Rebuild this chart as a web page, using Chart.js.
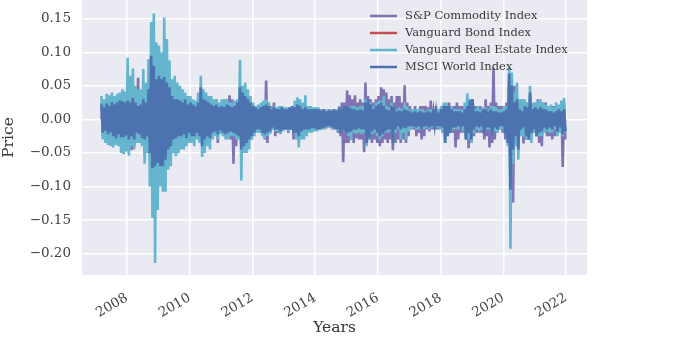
<!DOCTYPE html>
<html>
<head>
<meta charset="utf-8">
<script src="https://cdn.jsdelivr.net/npm/chart.js@4.4.0/dist/chart.umd.min.js"></script>
<style>
  html, body { margin: 0; padding: 0; background: #fff; }
</style>
</head>
<body>
<canvas id="returnsChart" width="695" height="345"></canvas>
<script>
// Monthly high / low of the daily returns, March 2007 .. December 2021
const FIRST_MONTH = 2007 + 2 / 12;

const seriesNames = ['S&P Commodity Index', 'Vanguard Bond Index', 'Vanguard Real Estate Index', 'MSCI World Index'];
const seriesColors = ['#8172B3', '#C44E52', '#64B5CD', '#4C72B0'];

const yearTicks = [2008, 2010, 2012, 2014, 2016, 2018, 2020, 2022];
const priceTicks = [0.15, 0.10, 0.05, 0.00, -0.05, -0.10, -0.15, -0.20];

const commodityHigh = [
  0.025, 0.025, 0.028, 0.025, 0.030, 0.028, 0.030, 0.035, 0.030, 0.030,
  0.040, 0.035, 0.040, 0.035, 0.062, 0.040, 0.045, 0.040, 0.055, 0.070, 0.065, 0.060,
  0.055, 0.045, 0.050, 0.040, 0.040, 0.035, 0.035, 0.035, 0.030, 0.030, 0.025, 0.025,
  0.025, 0.025, 0.020, 0.020, 0.035, 0.025, 0.025, 0.020, 0.020, 0.025, 0.030, 0.020,
  0.025, 0.030, 0.030, 0.036, 0.030, 0.025, 0.020, 0.035, 0.030, 0.035, 0.025, 0.025,
  0.020, 0.020, 0.015, 0.015, 0.015, 0.058, 0.025, 0.020, 0.025, 0.015, 0.015, 0.020,
  0.015, 0.015, 0.015, 0.020, 0.015, 0.015, 0.020, 0.020, 0.020, 0.015, 0.015, 0.015,
  0.015, 0.015, 0.015, 0.012, 0.012, 0.015, 0.012, 0.015, 0.012, 0.018, 0.025, 0.025,
  0.043, 0.036, 0.030, 0.036, 0.025, 0.030, 0.025, 0.055, 0.035, 0.030, 0.025, 0.030,
  0.035, 0.048, 0.045, 0.040, 0.030, 0.035, 0.025, 0.035, 0.035, 0.025, 0.051, 0.025,
  0.020, 0.015, 0.020, 0.015, 0.020, 0.020, 0.020, 0.018, 0.028, 0.015, 0.020, 0.015,
  0.018, 0.020, 0.020, 0.025, 0.020, 0.020, 0.025, 0.020, 0.020, 0.020, 0.025, 0.030,
  0.030, 0.020, 0.020, 0.020, 0.015, 0.030, 0.020, 0.025, 0.077, 0.025, 0.020, 0.020,
  0.020, 0.025, 0.050, 0.060, 0.050, 0.035, 0.020, 0.030, 0.025, 0.025, 0.035, 0.020,
  0.025, 0.030, 0.025, 0.025, 0.025, 0.020, 0.020, 0.020, 0.020, 0.020, 0.025, 0.025
];
const commodityLow = [
  -0.025, -0.025, -0.030, -0.028, -0.030, -0.030, -0.030, -0.035, -0.035, -0.030,
  -0.035, -0.046, -0.040, -0.030, -0.035, -0.035, -0.050, -0.045, -0.060, -0.070, -0.065, -0.060,
  -0.050, -0.050, -0.045, -0.040, -0.035, -0.040, -0.035, -0.030, -0.030, -0.030, -0.025, -0.025,
  -0.028, -0.025, -0.020, -0.020, -0.035, -0.025, -0.025, -0.020, -0.020, -0.020, -0.035, -0.015,
  -0.020, -0.025, -0.025, -0.030, -0.066, -0.040, -0.020, -0.040, -0.046, -0.035, -0.025, -0.030,
  -0.020, -0.015, -0.020, -0.020, -0.030, -0.035, -0.020, -0.015, -0.025, -0.020, -0.020, -0.015,
  -0.015, -0.020, -0.015, -0.030, -0.015, -0.030, -0.020, -0.015, -0.020, -0.015, -0.015, -0.015,
  -0.015, -0.015, -0.015, -0.012, -0.010, -0.012, -0.015, -0.012, -0.020, -0.025, -0.064, -0.035,
  -0.035, -0.030, -0.035, -0.028, -0.030, -0.030, -0.049, -0.035, -0.030, -0.035, -0.030, -0.035,
  -0.040, -0.035, -0.030, -0.035, -0.030, -0.046, -0.035, -0.030, -0.035, -0.030, -0.035, -0.025,
  -0.015, -0.015, -0.025, -0.020, -0.030, -0.025, -0.015, -0.018, -0.015, -0.015, -0.015, -0.015,
  -0.020, -0.025, -0.020, -0.020, -0.020, -0.042, -0.030, -0.020, -0.020, -0.030, -0.043, -0.035,
  -0.025, -0.020, -0.020, -0.020, -0.030, -0.025, -0.042, -0.035, -0.030, -0.020, -0.015, -0.020,
  -0.030, -0.035, -0.100, -0.124, -0.040, -0.035, -0.020, -0.036, -0.030, -0.030, -0.025, -0.020,
  -0.025, -0.035, -0.040, -0.020, -0.025, -0.025, -0.030, -0.025, -0.020, -0.020, -0.071, -0.030
];

const bondHigh = [
  0.006, 0.006, 0.006, 0.006, 0.006, 0.006, 0.006, 0.006, 0.006, 0.006,
  0.008, 0.008, 0.010, 0.008, 0.006, 0.006, 0.006, 0.006, 0.012, 0.015, 0.018, 0.020,
  0.015, 0.012, 0.012, 0.010, 0.010, 0.008, 0.008, 0.006, 0.006, 0.006, 0.006, 0.006,
  0.006, 0.006, 0.006, 0.006, 0.006, 0.006, 0.006, 0.006, 0.006, 0.006, 0.006, 0.006,
  0.006, 0.006, 0.006, 0.006, 0.006, 0.006, 0.006, 0.008, 0.006, 0.006, 0.006, 0.006,
  0.005, 0.005, 0.005, 0.005, 0.005, 0.005, 0.005, 0.005, 0.005, 0.005, 0.005, 0.005,
  0.005, 0.005, 0.005, 0.005, 0.006, 0.008, 0.006, 0.006, 0.006, 0.005, 0.005, 0.005,
  0.005, 0.005, 0.005, 0.005, 0.005, 0.005, 0.005, 0.005, 0.005, 0.005, 0.005, 0.005,
  0.005, 0.005, 0.005, 0.005, 0.005, 0.005, 0.005, 0.005, 0.005, 0.005, 0.005, 0.005,
  0.005, 0.005, 0.005, 0.005, 0.005, 0.006, 0.005, 0.005, 0.005, 0.005, 0.005, 0.005,
  0.004, 0.004, 0.004, 0.004, 0.004, 0.004, 0.004, 0.004, 0.004, 0.004, 0.004, 0.004,
  0.004, 0.004, 0.004, 0.004, 0.004, 0.004, 0.004, 0.004, 0.004, 0.004, 0.004, 0.004,
  0.005, 0.004, 0.005, 0.004, 0.005, 0.005, 0.004, 0.005, 0.004, 0.004, 0.004, 0.004,
  0.005, 0.008, 0.030, 0.012, 0.006, 0.005, 0.005, 0.004, 0.004, 0.004, 0.005, 0.004,
  0.005, 0.005, 0.005, 0.004, 0.004, 0.004, 0.004, 0.004, 0.004, 0.004, 0.004, 0.004
];
const bondLow = [
  -0.006, -0.006, -0.006, -0.006, -0.006, -0.006, -0.006, -0.006, -0.006, -0.006,
  -0.008, -0.008, -0.010, -0.008, -0.006, -0.006, -0.006, -0.006, -0.012, -0.015, -0.015, -0.012,
  -0.015, -0.012, -0.012, -0.010, -0.010, -0.008, -0.008, -0.006, -0.006, -0.006, -0.006, -0.006,
  -0.006, -0.006, -0.006, -0.006, -0.006, -0.006, -0.006, -0.006, -0.006, -0.006, -0.006, -0.006,
  -0.006, -0.006, -0.006, -0.006, -0.006, -0.006, -0.006, -0.008, -0.006, -0.006, -0.006, -0.006,
  -0.005, -0.005, -0.005, -0.005, -0.005, -0.005, -0.005, -0.005, -0.005, -0.005, -0.005, -0.005,
  -0.005, -0.005, -0.005, -0.005, -0.007, -0.009, -0.007, -0.006, -0.006, -0.005, -0.005, -0.005,
  -0.005, -0.005, -0.005, -0.005, -0.005, -0.005, -0.005, -0.005, -0.005, -0.005, -0.005, -0.005,
  -0.005, -0.005, -0.005, -0.005, -0.005, -0.005, -0.005, -0.005, -0.005, -0.005, -0.005, -0.005,
  -0.005, -0.005, -0.005, -0.005, -0.005, -0.006, -0.005, -0.005, -0.005, -0.005, -0.008, -0.005,
  -0.004, -0.004, -0.004, -0.004, -0.004, -0.004, -0.004, -0.004, -0.004, -0.004, -0.004, -0.004,
  -0.004, -0.004, -0.004, -0.004, -0.004, -0.004, -0.004, -0.004, -0.004, -0.004, -0.004, -0.004,
  -0.005, -0.004, -0.005, -0.004, -0.005, -0.005, -0.004, -0.005, -0.004, -0.004, -0.004, -0.004,
  -0.005, -0.008, -0.040, -0.012, -0.006, -0.005, -0.005, -0.004, -0.004, -0.004, -0.005, -0.004,
  -0.005, -0.006, -0.005, -0.004, -0.004, -0.004, -0.004, -0.004, -0.004, -0.004, -0.004, -0.004
];

const realEstateHigh = [
  0.035, 0.030, 0.038, 0.036, 0.040, 0.035, 0.038, 0.040, 0.045, 0.042,
  0.092, 0.065, 0.076, 0.050, 0.045, 0.045, 0.075, 0.055, 0.090, 0.145, 0.158, 0.115,
  0.110, 0.100, 0.152, 0.120, 0.088, 0.060, 0.065, 0.055, 0.050, 0.045, 0.040, 0.035,
  0.035, 0.030, 0.028, 0.040, 0.065, 0.045, 0.040, 0.035, 0.035, 0.030, 0.030, 0.025,
  0.030, 0.030, 0.030, 0.025, 0.025, 0.028, 0.030, 0.089, 0.050, 0.055, 0.045, 0.035,
  0.025, 0.020, 0.022, 0.025, 0.028, 0.030, 0.025, 0.018, 0.020, 0.018, 0.020, 0.020,
  0.018, 0.018, 0.018, 0.020, 0.028, 0.033, 0.030, 0.025, 0.036, 0.020, 0.020, 0.018,
  0.018, 0.018, 0.015, 0.015, 0.015, 0.012, 0.015, 0.012, 0.015, 0.020, 0.015, 0.020,
  0.020, 0.020, 0.020, 0.020, 0.018, 0.020, 0.020, 0.030, 0.030, 0.025, 0.020, 0.025,
  0.028, 0.028, 0.035, 0.020, 0.018, 0.025, 0.018, 0.015, 0.018, 0.015, 0.025, 0.020,
  0.015, 0.015, 0.015, 0.015, 0.015, 0.015, 0.012, 0.015, 0.015, 0.012, 0.015, 0.015,
  0.020, 0.025, 0.025, 0.020, 0.020, 0.015, 0.015, 0.015, 0.015, 0.025, 0.039, 0.030,
  0.030, 0.015, 0.020, 0.015, 0.018, 0.018, 0.015, 0.020, 0.020, 0.018, 0.015, 0.015,
  0.020, 0.020, 0.077, 0.070, 0.040, 0.055, 0.030, 0.030, 0.030, 0.025, 0.050, 0.025,
  0.025, 0.028, 0.030, 0.025, 0.022, 0.020, 0.022, 0.018, 0.025, 0.022, 0.028, 0.032
];
const realEstateLow = [
  -0.030, -0.035, -0.038, -0.040, -0.042, -0.038, -0.040, -0.050, -0.052, -0.048,
  -0.054, -0.040, -0.045, -0.035, -0.035, -0.040, -0.066, -0.050, -0.100, -0.147, -0.214, -0.135,
  -0.100, -0.108, -0.108, -0.075, -0.070, -0.050, -0.055, -0.050, -0.045, -0.045, -0.040, -0.035,
  -0.035, -0.040, -0.030, -0.035, -0.056, -0.050, -0.040, -0.045, -0.030, -0.025, -0.030, -0.022,
  -0.025, -0.030, -0.030, -0.025, -0.025, -0.030, -0.030, -0.091, -0.050, -0.050, -0.045, -0.030,
  -0.025, -0.020, -0.020, -0.025, -0.028, -0.025, -0.022, -0.015, -0.018, -0.018, -0.022, -0.018,
  -0.015, -0.018, -0.015, -0.020, -0.030, -0.042, -0.030, -0.030, -0.025, -0.020, -0.020, -0.018,
  -0.018, -0.015, -0.015, -0.015, -0.012, -0.012, -0.015, -0.012, -0.018, -0.018, -0.015, -0.020,
  -0.025, -0.031, -0.020, -0.022, -0.020, -0.022, -0.020, -0.040, -0.030, -0.022, -0.020, -0.025,
  -0.030, -0.025, -0.020, -0.020, -0.018, -0.035, -0.020, -0.015, -0.030, -0.020, -0.030, -0.018,
  -0.015, -0.012, -0.015, -0.015, -0.015, -0.015, -0.012, -0.015, -0.012, -0.012, -0.012, -0.015,
  -0.020, -0.035, -0.025, -0.020, -0.015, -0.015, -0.015, -0.012, -0.018, -0.030, -0.030, -0.035,
  -0.020, -0.015, -0.018, -0.015, -0.020, -0.015, -0.015, -0.025, -0.018, -0.020, -0.015, -0.015,
  -0.020, -0.040, -0.193, -0.066, -0.040, -0.060, -0.025, -0.025, -0.030, -0.030, -0.035, -0.020,
  -0.025, -0.025, -0.025, -0.020, -0.018, -0.020, -0.020, -0.015, -0.025, -0.020, -0.025, -0.020
];

const msciHigh = [
  0.022, 0.018, 0.024, 0.020, 0.026, 0.022, 0.025, 0.028, 0.027, 0.025,
  0.028, 0.025, 0.032, 0.025, 0.020, 0.022, 0.030, 0.025, 0.045, 0.095, 0.080, 0.060,
  0.065, 0.060, 0.063, 0.055, 0.048, 0.035, 0.030, 0.030, 0.028, 0.025, 0.030, 0.022,
  0.025, 0.022, 0.020, 0.025, 0.048, 0.030, 0.028, 0.025, 0.022, 0.020, 0.022, 0.018,
  0.020, 0.018, 0.022, 0.020, 0.018, 0.020, 0.025, 0.048, 0.040, 0.035, 0.030, 0.025,
  0.020, 0.018, 0.015, 0.018, 0.020, 0.022, 0.020, 0.015, 0.018, 0.015, 0.015, 0.018,
  0.015, 0.015, 0.018, 0.020, 0.018, 0.022, 0.020, 0.015, 0.018, 0.015, 0.015, 0.015,
  0.015, 0.015, 0.013, 0.015, 0.012, 0.012, 0.013, 0.015, 0.013, 0.018, 0.015, 0.020,
  0.020, 0.018, 0.015, 0.015, 0.013, 0.015, 0.013, 0.025, 0.030, 0.022, 0.015, 0.020,
  0.022, 0.025, 0.020, 0.015, 0.013, 0.020, 0.018, 0.012, 0.013, 0.012, 0.015, 0.013,
  0.012, 0.010, 0.012, 0.010, 0.012, 0.010, 0.010, 0.012, 0.010, 0.010, 0.010, 0.010,
  0.015, 0.020, 0.020, 0.020, 0.015, 0.012, 0.012, 0.012, 0.010, 0.015, 0.020, 0.028,
  0.030, 0.012, 0.012, 0.010, 0.015, 0.015, 0.012, 0.015, 0.012, 0.012, 0.010, 0.010,
  0.012, 0.015, 0.068, 0.050, 0.025, 0.030, 0.015, 0.012, 0.020, 0.018, 0.040, 0.015,
  0.018, 0.015, 0.018, 0.015, 0.015, 0.012, 0.012, 0.010, 0.012, 0.015, 0.012, 0.015
];
const msciLow = [
  -0.020, -0.017, -0.022, -0.019, -0.025, -0.028, -0.022, -0.027, -0.026, -0.024,
  -0.030, -0.025, -0.030, -0.020, -0.022, -0.028, -0.030, -0.025, -0.050, -0.073, -0.070, -0.065,
  -0.070, -0.070, -0.060, -0.045, -0.040, -0.030, -0.028, -0.025, -0.025, -0.022, -0.028, -0.020,
  -0.025, -0.025, -0.020, -0.025, -0.040, -0.030, -0.025, -0.028, -0.020, -0.018, -0.022, -0.016,
  -0.020, -0.022, -0.020, -0.018, -0.020, -0.022, -0.025, -0.045, -0.040, -0.035, -0.030, -0.025,
  -0.020, -0.015, -0.015, -0.020, -0.022, -0.020, -0.018, -0.012, -0.015, -0.015, -0.018, -0.015,
  -0.015, -0.015, -0.015, -0.020, -0.020, -0.025, -0.018, -0.015, -0.015, -0.015, -0.013, -0.013,
  -0.015, -0.015, -0.013, -0.012, -0.010, -0.010, -0.012, -0.015, -0.015, -0.020, -0.015, -0.020,
  -0.020, -0.018, -0.015, -0.015, -0.013, -0.015, -0.015, -0.035, -0.028, -0.018, -0.015, -0.020,
  -0.025, -0.022, -0.018, -0.015, -0.015, -0.035, -0.015, -0.010, -0.015, -0.012, -0.013, -0.010,
  -0.010, -0.010, -0.012, -0.010, -0.015, -0.010, -0.010, -0.012, -0.010, -0.008, -0.010, -0.010,
  -0.012, -0.035, -0.025, -0.020, -0.012, -0.012, -0.010, -0.012, -0.010, -0.030, -0.020, -0.030,
  -0.015, -0.010, -0.012, -0.010, -0.022, -0.012, -0.012, -0.025, -0.012, -0.015, -0.010, -0.010,
  -0.020, -0.035, -0.105, -0.045, -0.025, -0.045, -0.015, -0.012, -0.025, -0.030, -0.020, -0.015,
  -0.025, -0.020, -0.018, -0.012, -0.015, -0.012, -0.015, -0.010, -0.018, -0.012, -0.022, -0.018
];

// each month becomes two vertices: its highest and its lowest daily return
function monthlySwing(highs, lows) {
  const pts = [];
  highs.forEach((hi, i) => {
    const t = FIRST_MONTH + i / 12;
    pts.push({ x: t + 0.25 / 12, y: hi });
    pts.push({ x: t + 0.75 / 12, y: lows[i] });
  });
  return pts;
}

const seriesData = [
  monthlySwing(commodityHigh, commodityLow),
  monthlySwing(bondHigh, bondLow),
  monthlySwing(realEstateHigh, realEstateLow),
  monthlySwing(msciHigh, msciLow)
];

const SERIF = "'DejaVu Serif', 'Liberation Serif', serif";

const plotBackground = {
  id: 'plotBackground',
  beforeDraw(chart) {
    const { ctx, chartArea: a } = chart;
    ctx.save();
    ctx.fillStyle = '#EAEAF2';
    ctx.fillRect(a.left, a.top, a.right - a.left, a.bottom - a.top);
    ctx.restore();
  }
};

// legend drawn inside the plot, top right, no frame
const lineLegend = {
  id: 'lineLegend',
  afterDraw(chart) {
    const ctx = chart.ctx;
    ctx.save();
    ctx.font = '11.5px ' + SERIF;
    ctx.textBaseline = 'middle';
    seriesNames.forEach((name, i) => {
      const y = 16 + i * 17;
      ctx.strokeStyle = seriesColors[i];
      ctx.lineWidth = 2.5;
      ctx.beginPath();
      ctx.moveTo(370, y);
      ctx.lineTo(397, y);
      ctx.stroke();
      ctx.fillStyle = '#3a3a3a';
      ctx.fillText(name, 405, y + 0.5);
    });
    ctx.restore();
  }
};

// keep the plot flush with the top edge and the y-axis exactly 82px wide
function fixYAxis(scale) {
  scale.width = 82;
  scale.paddingTop = 0;
  scale.paddingBottom = 0;
}
function fixXAxis(scale) {
  scale.height = 70;
  scale.paddingLeft = 0;
  scale.paddingRight = 0;
}

new Chart(document.getElementById('returnsChart'), {
  type: 'line',
  data: {
    datasets: seriesNames.map((name, i) => ({
      label: name,
      data: seriesData[i],
      borderColor: seriesColors[i],
      borderWidth: 2.6,
      pointRadius: 0,
      tension: 0,
      order: seriesNames.length - i
    }))
  },
  options: {
    responsive: false,
    animation: false,
    layout: { padding: { left: 0, right: 108, top: 0, bottom: 0 } },
    plugins: {
      legend: { display: false },
      tooltip: { enabled: false }
    },
    scales: {
      x: {
        type: 'linear',
        min: 2006.565,
        max: 2022.67,
        afterBuildTicks: axis => { axis.ticks = yearTicks.map(v => ({ value: v })); },
        afterFit: fixXAxis,
        grid: { color: '#ffffff', lineWidth: 1.5, drawTicks: false },
        border: { display: false },
        ticks: {
          font: { family: SERIF, size: 13.5 },
          color: '#444',
          maxRotation: 30,
          minRotation: 30,
          padding: 15,
          callback: v => String(v)
        },
        title: {
          display: true,
          text: 'Years',
          font: { family: SERIF, size: 15.5 },
          color: '#333',
          padding: { top: 0, bottom: 8 }
        }
      },
      y: {
        min: -0.232,
        max: 0.178,
        afterBuildTicks: axis => { axis.ticks = priceTicks.map(v => ({ value: v })); },
        afterFit: fixYAxis,
        grid: { color: '#ffffff', lineWidth: 1.5, drawTicks: false },
        border: { display: false },
        ticks: {
          font: { family: SERIF, size: 13.5 },
          color: '#444',
          padding: 11,
          callback: v => v.toFixed(2).replace('-', '\u2212')
        },
        title: {
          display: true,
          text: 'Price',
          font: { family: SERIF, size: 15.5 },
          color: '#333',
          padding: { top: 0, bottom: 0 }
        }
      }
    }
  },
  plugins: [plotBackground, lineLegend]
});
</script>
</body>
</html>
